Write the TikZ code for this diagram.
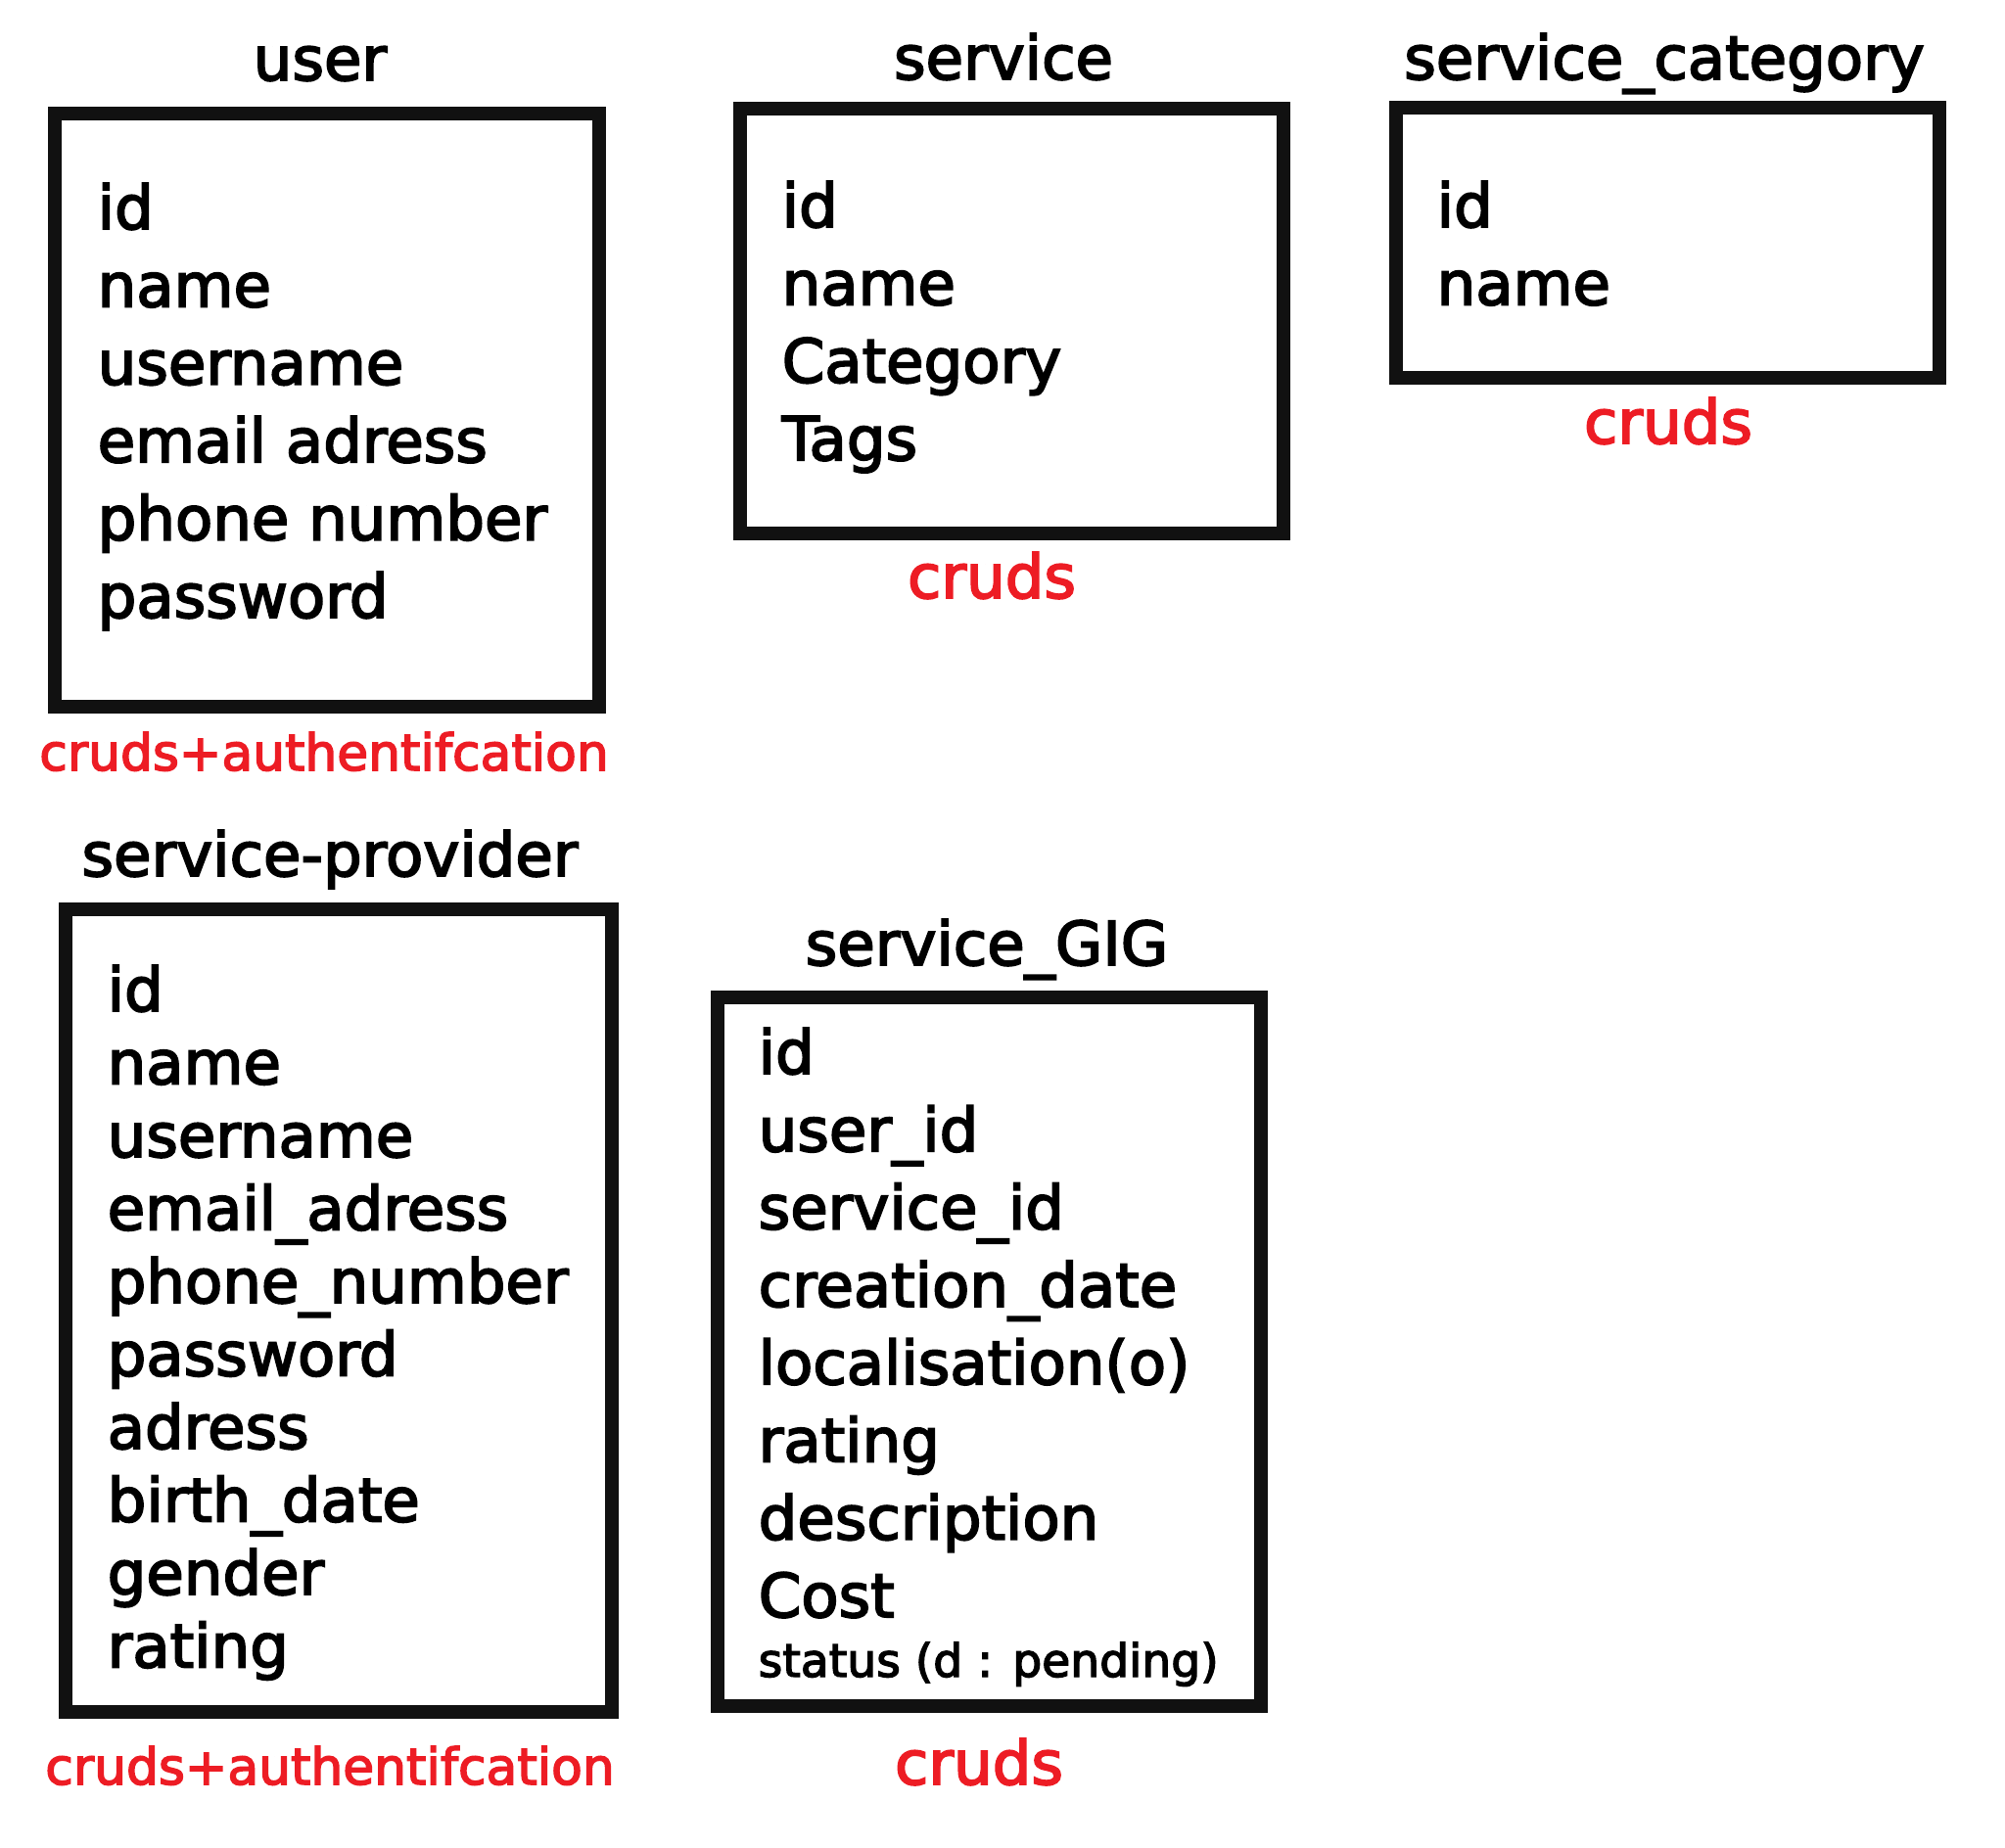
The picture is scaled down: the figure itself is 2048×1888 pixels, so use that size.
\documentclass[tikz,border=0pt]{standalone}
\usepackage{fontspec}
\setmainfont[FakeBold=3,FakeStretch=1.01]{DejaVu Sans}
\usepackage{tikz}
\usepackage{xcolor}

\definecolor{crudred}{RGB}{237,28,36}
\definecolor{boxline}{RGB}{17,17,17}

\newcommand{\bigtext}{\fontsize{17.6pt}{20pt}\selectfont}
\newcommand{\midtext}{\fontsize{14.6pt}{17pt}\selectfont}
\newcommand{\smalltext}{\fontsize{13.3pt}{16pt}\selectfont}

\tikzset{
  tabtitle/.style={anchor=base,inner sep=0pt,font=\bigtext},
  tabbox/.style={draw=boxline,line width=3.8pt},
  field/.style={anchor=base west,inner sep=0pt,font=\bigtext},
  crud/.style={anchor=base,inner sep=0pt,text=crudred,font=\bigtext}
}

\begin{document}
\begin{tikzpicture}[x=0.01cm,y=-0.01cm]
  \useasboundingbox (0,0) rectangle (2048,1888);

  % user
  \node[tabtitle] (usertitle) at (327,82) {user};
  \draw[tabbox] (56,116) rectangle (612,722);
  \foreach \f [count=\i] in {id,name,username,email adress,phone number,password}
    \node[field] (user\i) at (99,{234+79.4*(\i-1)}) {\f};
  \node[crud,font=\midtext] (usercrud) at (331,787) {cruds+authentifcation};

  % service
  \node[tabtitle] (servtitle) at (1025,81) {service};
  \draw[tabbox] (756,111) rectangle (1311,545);
  \foreach \f [count=\i] in {id,name,Category,Tags}
    \node[field] (serv\i) at (798,{232+79.4*(\i-1)}) {\f};
  \node[crud] (servcrud) at (1013,611) {cruds};

  % service_category
  \node[tabtitle] (cattitle) at (1700,81) {service\_category};
  \draw[tabbox] (1426,110) rectangle (1981,386);
  \foreach \f [count=\i] in {id,name}
    \node[field] (cat\i) at (1467,{232+79.4*(\i-1)}) {\f};
  \node[crud] (catcrud) at (1704,453) {cruds};

  % service-provider
  \node[tabtitle] (provtitle) at (337,895) {service-provider};
  \draw[tabbox] (67,929) rectangle (625,1749);
  \foreach \f [count=\i] in {id,name,username,email\_adress,phone\_number,password,adress,birth\_date,gender,rating}
    \node[field] (prov\i) at (109,{1033+74.5*(\i-1)}) {\f};
  \node[crud,font=\midtext] (provcrud) at (337,1823) {cruds+authentifcation};

  % service_GIG
  \node[tabtitle] (gigtitle) at (1008,986) {service\_GIG};
  \draw[tabbox] (733,1019) rectangle (1288,1743);
  \foreach \f [count=\i] in {id,user\_id,service\_id,creation\_date,localisation(o),rating,description,Cost}
    \node[field] (gig\i) at (774,{1097+79.3*(\i-1)}) {\f};
  \node[field,font=\smalltext] (gig9) at (774,1713) {status (d : pending)};
  \node[crud] (gigcrud) at (1000,1823) {cruds};
\end{tikzpicture}
\end{document}
